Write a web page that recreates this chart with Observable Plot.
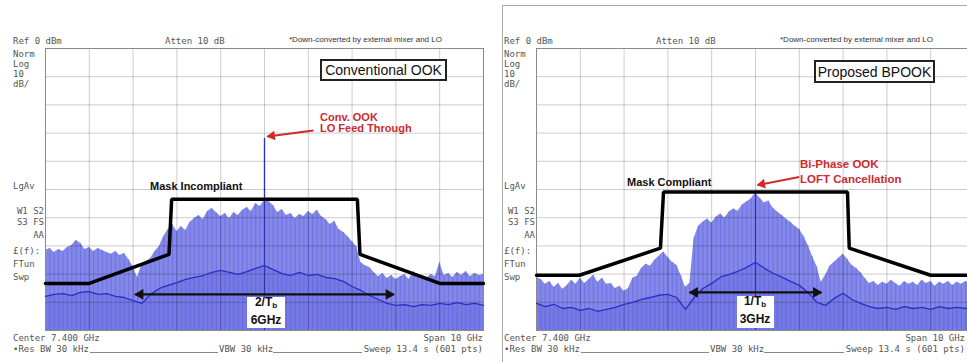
<!DOCTYPE html>
<html><head><meta charset="utf-8">
<script src="https://cdn.jsdelivr.net/npm/d3@7"></script>
<script src="https://cdn.jsdelivr.net/npm/@observablehq/plot@0.6"></script>
<style>
html,body{margin:0;padding:0;background:#fff;width:967px;height:362px;overflow:hidden;}
#root{position:relative;width:967px;height:362px;overflow:hidden;}
.p{position:absolute;top:0;}
.t{position:absolute;white-space:nowrap;line-height:1;}
.m{font-family:"DejaVu Sans Mono",monospace;font-size:9px;color:#555;}
.s{font-family:"Liberation Sans",Arial,sans-serif;font-size:8px;color:#333;}
.r{font-family:"Liberation Sans",Arial,sans-serif;font-size:11px;font-weight:bold;color:#cc2a2e;}
.r2{font-family:"Liberation Sans",Arial,sans-serif;font-size:11.5px;font-weight:bold;color:#cc2a2e;}
.b{font-family:"Liberation Sans",Arial,sans-serif;font-size:11px;font-weight:bold;color:#111;}
.bw{font-family:"Liberation Sans",Arial,sans-serif;font-size:12px;font-weight:bold;color:#111;}
.bw sub{font-size:8px;vertical-align:-2px;}
.box{position:absolute;background:#fff;border:2px solid #222;box-sizing:border-box;display:flex;align-items:center;justify-content:center;font-family:"Liberation Sans",Arial,sans-serif;font-size:14px;color:#111;}
.wb{position:absolute;background:#fff;}
.ul{position:absolute;height:0;border-top:1px solid #888;}
.sep{position:absolute;background:#aaa;}
</style></head>
<body><div id="root"></div>
<script>
// ---- axes / grid (spectrum analyzer: centre 7.4 GHz, span 10 GHz, ref 0 dBm, 10 dB/div)
const xTicks = [2.4,3.4,4.4,5.4,6.4,7.4,8.4,9.4,10.4,11.4,12.4];
const yTicks = [-100,-90,-80,-70,-60,-50,-40,-30,-20,-10,0];
const envStep = 0.1;   // GHz between envelope samples
const avgStep = 0.2;   // GHz between average-trace samples
const fStart = 2.4;

// ---- Conventional OOK (left)
const convEnv = [-71.6,-70.9,-72.3,-71.3,-72.0,-70.6,-69.9,-68.1,-69.1,-71.3,
-70.6,-72.0,-70.9,-71.6,-72.3,-73.0,-72.0,-73.4,-72.7,-74.8,
-77.3,-81.2,-76.6,-75.5,-74.5,-72.0,-70.2,-66.7,-64.2,-62.4,
-64.9,-63.1,-64.5,-61.7,-60.3,-59.2,-60.6,-57.8,-56.7,-58.2,
-59.6,-58.5,-60.3,-58.2,-59.2,-57.4,-56.4,-57.8,-55.0,-56.0,
-53.9,-54.3,-55.7,-58.2,-57.1,-59.2,-58.5,-60.3,-58.9,-59.6,
-57.8,-58.9,-57.4,-59.6,-60.6,-62.4,-61.3,-64.2,-65.2,-66.7,
-68.4,-70.2,-75.9,-77.0,-77.7,-79.4,-80.9,-79.8,-81.6,-80.5,
-81.9,-80.9,-80.1,-81.9,-79.1,-81.2,-80.5,-81.6,-80.1,-80.9,
-75.9,-80.5,-79.8,-81.2,-79.4,-80.5,-79.1,-80.9,-79.8,-80.5,
-80.1];
const convAvg = [-87.9,-87.2,-86.9,-87.6,-86.5,-86.2,-87.2,-86.9,-87.9,-88.3,
-89.4,-90.4,-87.2,-85.1,-84.0,-83.0,-81.9,-81.2,-80.5,-79.4,
-78.7,-79.4,-80.1,-79.1,-78.0,-77.0,-78.4,-79.8,-80.5,-79.4,
-80.5,-80.1,-81.2,-81.6,-82.6,-84.4,-85.8,-87.6,-89.0,-90.4,
-91.1,-90.8,-91.5,-90.8,-91.1,-90.4,-90.8,-90.1,-90.8,-90.4,
-91.1];
const convMaskF  = [2.4, 3.4, 5.22, 5.28, 9.52, 9.58, 11.4, 12.4];
const convMaskDb = [-83.3, -83.3, -73.0, -53.5, -53.5, -73.0, -83.3, -83.3];
const convSpikeF = 7.4, convSpikeDb = -31.9;       // LO feed-through
const convBand = [4.45, 10.35], convBandDb = -87.2; // 2/Tb = 6 GHz

// ---- Proposed BPOOK (right)
const bpEnv = [-81.1,-81.9,-83.6,-82.6,-84.7,-83.3,-85.4,-84.0,-82.2,-83.6,
-81.5,-83.3,-81.9,-80.4,-82.9,-81.5,-83.6,-83.3,-85.1,-84.3,
-86.1,-85.1,-81.5,-80.8,-77.9,-76.5,-77.2,-75.1,-73.7,-72.2,
-74.0,-75.8,-76.9,-80.4,-84.7,-83.3,-67.3,-63.0,-61.6,-60.5,
-61.9,-59.8,-58.7,-60.1,-58.0,-56.9,-57.7,-55.5,-54.4,-53.4,
-51.2,-53.0,-54.8,-54.1,-56.6,-58.0,-59.1,-60.5,-61.6,-63.0,
-64.1,-66.5,-69.8,-73.7,-77.2,-82.9,-80.4,-77.2,-75.8,-74.4,
-73.0,-74.7,-76.9,-77.9,-79.4,-81.5,-83.3,-82.6,-84.0,-82.9,
-83.6,-82.2,-83.3,-84.3,-82.6,-83.6,-82.9,-84.0,-82.2,-83.3,
-82.6,-84.3,-82.9,-83.6,-82.6,-84.0,-82.9,-83.6,-82.6,-83.3,
-82.9];
const bpAvg = [-90.4,-91.5,-90.7,-92.2,-91.8,-92.9,-92.2,-93.2,-92.5,-91.8,
-90.7,-90.0,-89.0,-88.3,-87.5,-87.2,-88.3,-92.5,-88.3,-85.1,
-83.3,-81.1,-80.1,-79.0,-77.6,-75.8,-77.9,-79.7,-81.1,-82.6,
-84.0,-86.5,-90.0,-91.1,-88.6,-86.8,-89.0,-90.4,-91.5,-92.2,
-91.8,-92.5,-91.5,-92.2,-91.8,-92.5,-91.5,-92.2,-91.8,-92.2,
-91.5];
const bpMaskF  = [2.4, 3.38, 5.23, 5.3, 9.5, 9.54, 11.4, 12.4];
const bpMaskDb = [-80.4, -80.4, -70.8, -50.9, -50.9, -70.8, -80.4, -80.4];
const bpCenterF = 7.4, bpCenterDb = -51.2;
const bpBand = [5.9, 8.9], bpBandDb = -86.5;        // 1/Tb = 3 GHz

// red call-out arrows (from, to) in GHz / dBm
const convCallout = {f1: 8.52, d1: -29.1, f2: 7.47, d2: -31.2};
const bpCallout   = {f1: 8.40, d1: -45.6, f2: 7.45, d2: -48.4};

const series = (vals, step) => vals.map((v, i) => ({f: +(fStart + i * step).toFixed(2), v}));
const zipMask = (F, D) => F.map((f, i) => ({f, v: D[i]}));

function panel(o) {
  const env = series(o.env, envStep), avg = series(o.avg, avgStep);
  const mask = zipMask(o.maskF, o.maskDb);
  const heads = [
    {f: o.band[0], v: o.bandDb, dirx: -1},
    {f: o.band[1], v: o.bandDb, dirx: 1}
  ];
  const c = o.callout;
  const px = (c.f1 - c.f2) * 43.8, py = -(c.d1 - c.d2) * 2.82; // screen vector tip -> tail
  const len = Math.hypot(px, py);
  const rot = Math.atan2(-px, py) * 180 / Math.PI;              // direction tail -> tip
  return Plot.plot({
    width: 487, height: 362,
    marginLeft: 45, marginRight: 4, marginTop: 48, marginBottom: 32,
    x: {domain: [2.4, 12.4], axis: null},
    y: {domain: [-100, 0], axis: null},
    style: {background: "transparent", overflow: "visible"},
    marks: [
      Plot.areaY(env, {x: "f", y1: -100, y2: "v", fill: "#8488e9"}),
      Plot.ruleX(env, {x: "f", y1: -100, y2: "v", stroke: "#5a5ed8", strokeOpacity: 0.5}),
      Plot.areaY(avg, {x: "f", y1: -100, y2: "v", fill: "#4a4fd6", fillOpacity: 0.25}),
      Plot.ruleX([o.spikeF], {y1: -100, y2: o.spikeDb, stroke: "#3d42d2", strokeWidth: 1.4}),
      Plot.gridX(xTicks, {stroke: "#000", strokeOpacity: 0.2}),
      Plot.gridY(yTicks, {stroke: "#000", strokeOpacity: 0.2}),
      Plot.frame({stroke: "#8a8a8a"}),
      Plot.line(avg, {x: "f", y: "v", stroke: "#2a2fc6", strokeWidth: 1.3}),
      Plot.line(mask, {x: "f", y: "v", stroke: "#000", strokeWidth: 3.5, strokeLinejoin: "miter"}),
      Plot.link([{x1: o.band[0], x2: o.band[1], y: o.bandDb}], {x1: "x1", x2: "x2", y1: "y", y2: "y", stroke: "#111", strokeWidth: 2.2}),
      Plot.dot(heads.filter(h => h.dirx < 0), {x: "f", y: "v", symbol: "triangle", r: 4, fill: "#111", rotate: -90, dx: 5}),
      Plot.dot(heads.filter(h => h.dirx > 0), {x: "f", y: "v", symbol: "triangle", r: 4, fill: "#111", rotate: 90, dx: -5}),
      Plot.link([c], {x1: "f1", y1: "d1", x2: "f2", y2: "d2", stroke: "#d0292c", strokeWidth: 2}),
      Plot.dot([c], {x: "f2", y: "d2", symbol: "triangle", r: 3.6, fill: "#d0292c",
                     rotate: rot, dx: 4.5 * px / len, dy: 4.5 * py / len})
    ]
  });
}

const root = document.getElementById("root");
function addPlot(svg, left) {
  svg.classList.add("p");
  svg.style.left = left + "px";
  root.appendChild(svg);
}
addPlot(panel({env: convEnv, avg: convAvg, maskF: convMaskF, maskDb: convMaskDb,
  spikeF: convSpikeF, spikeDb: convSpikeDb, band: convBand, bandDb: convBandDb, callout: convCallout}), 0);
addPlot(panel({env: bpEnv, avg: bpAvg, maskF: bpMaskF, maskDb: bpMaskDb,
  spikeF: bpCenterF, spikeDb: bpCenterDb, band: bpBand, bandDb: bpBandDb, callout: bpCallout}), 491);

function T(html, x, y, cls, align) {
  const d = document.createElement("div");
  d.className = "t " + cls;
  d.innerHTML = html;
  d.style.left = x + "px"; d.style.top = y + "px";
  const tx = align === "r" ? "-100%" : align === "c" ? "-50%" : "0";
  d.style.transform = `translate(${tx},-50%)`;
  root.appendChild(d);
}
function box(cls, x1, y1, x2, y2, html) {
  const d = document.createElement("div");
  d.className = cls;
  d.style.left = x1 + "px"; d.style.top = y1 + "px";
  d.style.width = (x2 - x1) + "px"; d.style.height = (y2 - y1) + "px";
  if (html) d.innerHTML = html;
  root.appendChild(d);
}
function line(x1, x2, y) { box("ul", x1, y, x2, y); }

// right-panel border
box("sep", 502, 5, 503, 362);
box("sep", 502, 5, 967, 6);

// instrument annotations (same layout on both panels, offset 491 px)
[0, 491].forEach(o => {
  const rightEdge = o ? 965 : 483;
  T("Ref 0 dBm", 13 + o, 41, "m");
  T("Atten 10 dB", 165 + o, 41, "m");
  T("*Down-converted by external mixer and LO", 289 + o, 40, "s");
  T("Norm", 13 + o, 54, "m");
  T("Log", 13 + o, 64, "m");
  T("10", 13 + o, 74, "m");
  T("dB/", 13 + o, 84, "m");
  T("LgAv", 13 + o, 186, "m");
  T("W1 S2", 44 + o, 211, "m", "r");
  T("S3 FS", 44 + o, 222, "m", "r");
  T("AA", 44 + o, 235, "m", "r");
  T("£(f):", 13 + o, 251, "m");
  T("FTun", 13 + o, 264, "m");
  T("Swp", 13 + o, 277, "m");
  T("Center 7.400 GHz", 13 + o, 338, "m");
  T("Span 10 GHz", rightEdge, 338, "m", "r");
  T("•Res BW 30 kHz", 13 + o, 349, "m");
  T("VBW 30 kHz", 219 + o, 349, "m");
  T("Sweep 13.4 s (601 pts)", rightEdge, 349, "m", "r");
  line(90 + o, 218 + o, 352);
  line(273 + o, rightEdge - 121, 352);
});

// titles
box("box", 320, 59, 447, 81, "Conventional OOK");
box("box", 814, 60, 935, 83, "Proposed BPOOK");

// call-outs
T("Conv. OOK", 320, 117, "r");
T("LO Feed Through", 320, 128, "r");
T("Mask Incompliant", 150, 186, "b");
T("Bi-Phase OOK", 800, 165, "r2");
T("LOFT Cancellation", 800, 180, "r2");
T("Mask Compliant", 627, 182, "b");

// bandwidth labels
box("wb", 247, 297, 285, 328);
T("2/T<sub>b</sub>", 266, 303, "bw", "c");
T("6GHz", 266, 320, "bw", "c");
box("wb", 737, 296, 774, 328);
T("1/T<sub>b</sub>", 755, 302, "bw", "c");
T("3GHz", 755, 319, "bw", "c");
</script>
</body></html>
